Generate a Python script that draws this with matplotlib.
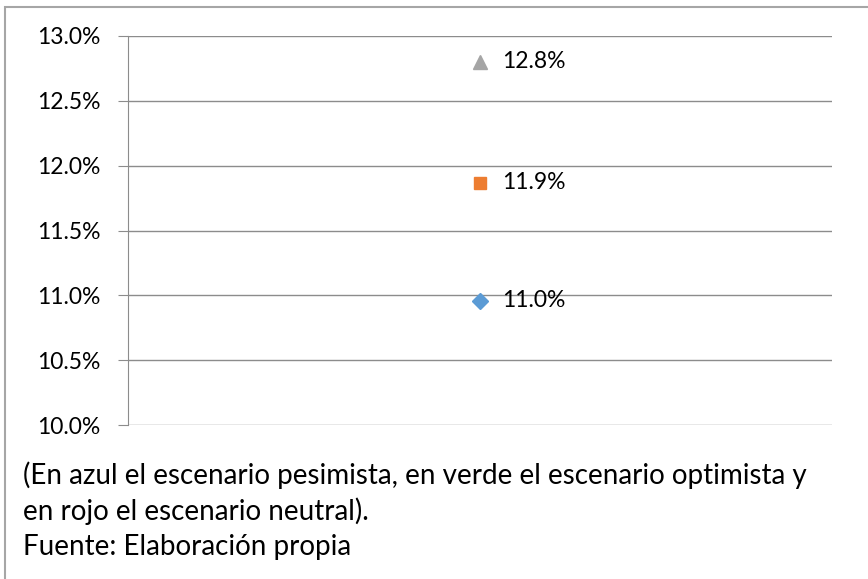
import matplotlib
matplotlib.use("Agg")
import matplotlib.pyplot as plt
from matplotlib.patches import Rectangle
from matplotlib.ticker import FuncFormatter

plt.rcParams['font.family'] = ['Lato', 'DejaVu Sans']

categories = [1]
pesimista = [0.1096]
neutral = [0.1187]
optimista = [0.1280]
labels_pes = ["11.0%"]
labels_neu = ["11.9%"]
labels_opt = ["12.8%"]
yticks = [0.100, 0.105, 0.110, 0.115, 0.120, 0.125, 0.130]
caption = ["(En azul el escenario pesimista, en verde el escenario optimista y",
           "en rojo el escenario neutral).",
           "Fuente: Elaboración propia"]

W, H = 868, 579
fig = plt.figure(figsize=(W/100, H/100), dpi=100)
fig.patch.set_facecolor('white')

# outer border
fig.patches.append(Rectangle((5/W, -0.01), 1.0, 1 - 7/H + 0.01, transform=fig.transFigure,
                             fill=False, edgecolor='#A6A6A6', linewidth=1.5))

ax = fig.add_axes([128/W, 1 - 425/H, (832-128)/W, (425-36)/H])
ax.set_xlim(0.5, 1.5)
ax.set_ylim(0.100, 0.130)
ax.set_yticks(yticks)
ax.yaxis.set_major_formatter(FuncFormatter(lambda v, p: f"{v*100:.1f}%"))
ax.set_xticks([])
ax.grid(axis='y', color='#8C8C8C', linewidth=1.0)
ax.set_axisbelow(True)
for s in ['top', 'right']:
    ax.spines[s].set_visible(False)
ax.spines['bottom'].set_visible(False)
ax.spines['left'].set_color('#8C8C8C')
ax.tick_params(axis='y', length=7, color='#8C8C8C', labelsize=16.5, pad=13, labelcolor='black')

series = [(pesimista, labels_pes, 'D', '#5B9BD5', 8),
          (neutral, labels_neu, 's', '#ED7D31', 9),
          (optimista, labels_opt, '^', '#A5A5A5', 10)]
for vals, labs, m, c, ms in series:
    ax.plot(categories, vals, linestyle='none', marker=m, color=c, markersize=ms, zorder=3)
    for x, v, l in zip(categories, vals, labs):
        ax.annotate(l, (x, v), xytext=(16, 0), textcoords='offset points',
                    ha='left', va='center', fontsize=16.5, color='black')

ys = [484, 520, 555]
for t, y in zip(caption, ys):
    fig.text(23/W, 1 - y/H, t, ha='left', va='baseline', fontsize=20, color='black')

fig.savefig('out.png', dpi=100)
